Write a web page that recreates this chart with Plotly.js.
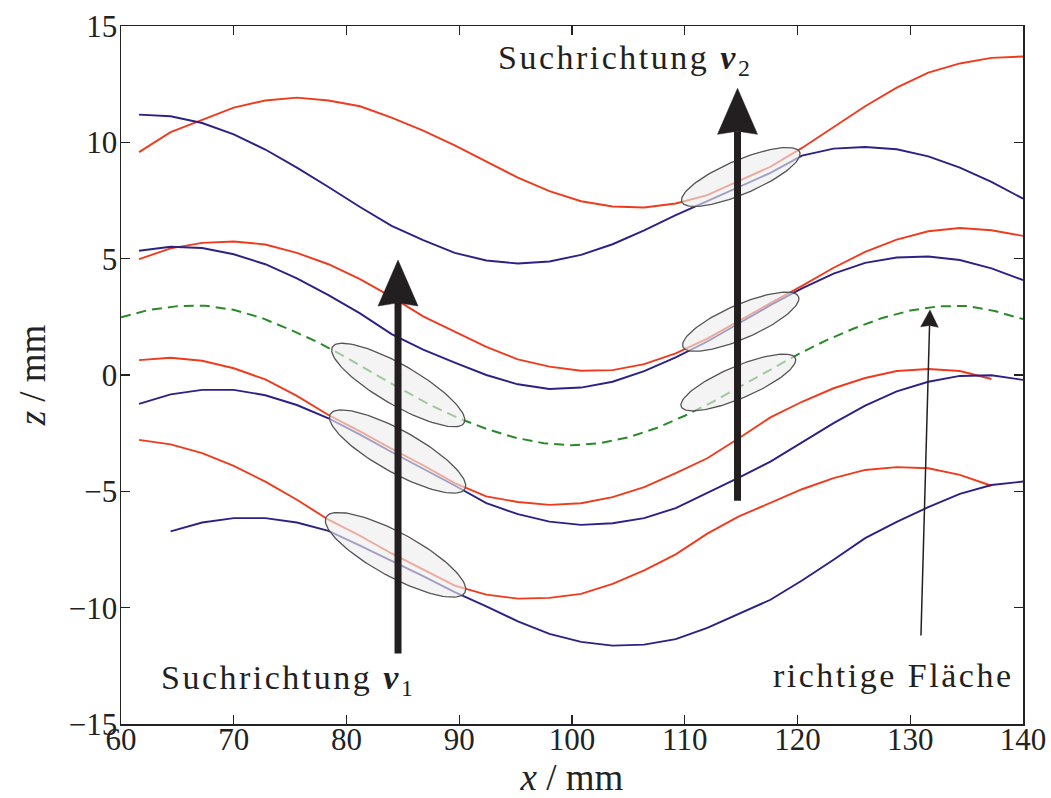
<!DOCTYPE html>
<html><head><meta charset="utf-8">
<script src="https://cdn.plot.ly/plotly-3.0.1.min.js"></script>
<style>html,body{margin:0;padding:0;background:#fff;} #chart{width:1051px;height:798px;} .annotation-text{letter-spacing:2.5px;}</style>
</head><body><div id="chart"></div>
<script>
// ---- data ----
const xGrid = [61.6,64.4,67.2,70.0,72.8,75.6,78.4,81.2,84.0,86.8,89.6,92.4,95.2,98.0,100.8,103.6,106.4,109.2,112.0,114.8,117.6,120.4,123.2,126.0,128.8,131.6,134.4,137.2,140.0];
const red1  = [9.58,10.44,10.97,11.49,11.80,11.92,11.80,11.55,11.06,10.50,9.87,9.16,8.48,7.90,7.47,7.24,7.20,7.37,7.73,8.34,8.95,9.76,10.66,11.55,12.35,13.00,13.39,13.63,13.69];
const blue1 = [11.19,11.12,10.83,10.34,9.69,8.91,8.08,7.22,6.41,5.80,5.25,4.92,4.79,4.88,5.16,5.62,6.22,6.87,7.47,8.07,8.69,9.43,9.73,9.80,9.70,9.40,8.91,8.30,7.58];
const red2  = [4.98,5.44,5.68,5.74,5.61,5.25,4.76,4.12,3.36,2.52,1.86,1.21,0.67,0.36,0.18,0.21,0.47,0.93,1.56,2.34,3.09,3.83,4.61,5.29,5.82,6.18,6.32,6.22,5.98];
const blue2 = [5.34,5.51,5.46,5.19,4.76,4.15,3.43,2.65,1.76,1.09,0.53,0.00,-0.40,-0.60,-0.54,-0.29,0.17,0.76,1.44,2.21,3.00,3.72,4.36,4.82,5.05,5.09,4.94,4.58,4.08];
const red3  = [0.64,0.74,0.61,0.29,-0.19,-0.90,-1.72,-2.42,-3.17,-3.88,-4.65,-5.22,-5.46,-5.58,-5.51,-5.25,-4.82,-4.22,-3.58,-2.72,-1.82,-1.15,-0.57,-0.13,0.17,0.26,0.17,-0.17,null];
const blue3 = [-1.24,-0.83,-0.64,-0.64,-0.87,-1.29,-1.86,-2.56,-3.31,-4.02,-4.75,-5.51,-5.98,-6.30,-6.44,-6.37,-6.15,-5.72,-5.08,-4.41,-3.72,-2.89,-2.07,-1.32,-0.70,-0.29,-0.04,-0.01,-0.21];
const red4  = [-2.79,-2.98,-3.36,-3.91,-4.58,-5.36,-6.22,-6.91,-7.67,-8.35,-9.05,-9.44,-9.61,-9.58,-9.41,-8.98,-8.40,-7.71,-6.82,-6.08,-5.51,-4.91,-4.43,-4.08,-3.96,-4.01,-4.29,-4.76,null];
const blue4 = [null,-6.72,-6.34,-6.15,-6.15,-6.34,-6.70,-7.33,-7.98,-8.64,-9.33,-9.94,-10.59,-11.13,-11.47,-11.63,-11.59,-11.35,-10.87,-10.27,-9.66,-8.83,-7.94,-7.01,-6.31,-5.68,-5.11,-4.73,-4.58];
const greenX = [60,62.5,65,67.5,70,72.5,75,77.5,80,82.5,85,87.5,90,92.5,95,97.5,100,102.5,105,107.5,110,112.5,115,117.5,120,122.5,125,127.5,130,132.5,135,137.5,140];
const greenZ = [2.48,2.80,2.96,2.98,2.80,2.45,1.95,1.40,0.75,0.05,-0.65,-1.30,-1.87,-2.33,-2.70,-2.93,-3.02,-2.93,-2.68,-2.28,-1.75,-1.15,-0.48,0.20,0.88,1.48,2.00,2.45,2.77,2.95,2.97,2.75,2.40];

// ellipses (centre in data units)
const ellX = [84.59,84.53,84.35,114.97,114.97,114.75];
const ellZ = [-0.43,-3.29,-7.73,8.51,2.29,-0.32];
// search-direction arrows
const arrX = [84.57,114.68];
const arrZ0 = [-11.97,-5.41];
const arrZ1 = [4.94,12.32];
// "richtige Fläche" pointer
const ptrX = [130.95,131.75];
const ptrZ = [-11.2,2.79];

const xTicks = [60,70,80,90,100,110,120,130,140];
const zTicks = [-15,-10,-5,0,5,10,15];

// ---- styles / layout geometry ----
const W=1051,H=798, M={l:121,r:28,t:26,b:74};
const xRange=[60,140], zRange=[-15,15];
const sx=(W-M.l-M.r)/(xRange[1]-xRange[0]);
const sz=(H-M.t-M.b)/(zRange[1]-zRange[0]);
const RED='#ef3b1d', BLUE='#2c2185', GREEN='#2a8a2a', INK='#231f20';
const FONT='"Liberation Serif", "Times New Roman", serif';
const ellA=[76,77,79,64,63,62], ellB=[20,21,22,17,17,16], ellAng=[-30,-29,-28.5,23,23.5,23];

const traces=[];
traces.push({x:greenX,y:greenZ,mode:'lines',line:{color:GREEN,width:2,dash:'10px,6px'}});
[[red1,RED],[blue1,BLUE],[red2,RED],[blue2,BLUE],[red3,RED],[blue3,BLUE],[red4,RED],[blue4,BLUE]].forEach(([z,c])=>{
  traces.push({x:xGrid,y:z,mode:'lines',line:{color:c,width:1.9},connectgaps:false});
});

function ellipse(xc,zc,a,b,angDeg){
  const th=angDeg*Math.PI/180, xs=[], zs=[];
  for(let i=0;i<=120;i++){const t=2*Math.PI*i/120;
    const dx=a*Math.cos(t)*Math.cos(th)-b*Math.sin(t)*Math.sin(th);
    const dy=a*Math.cos(t)*Math.sin(th)+b*Math.sin(t)*Math.cos(th);
    xs.push(xc+dx/sx); zs.push(zc+dy/sz);}
  return {xs,zs};
}
for(let i=0;i<ellX.length;i++){
  const e=ellipse(ellX[i],ellZ[i],ellA[i],ellB[i],ellAng[i]);
  traces.push({x:e.xs,y:e.zs,mode:'lines',fill:'toself',fillcolor:'rgba(236,238,236,0.62)',line:{color:'#555',width:1.3}});
}

function arrow(x0,z0,x1,z1,hl,hw,notch,shaftW){
  const dxp=(x1-x0)*sx, dyp=(z1-z0)*sz, L=Math.hypot(dxp,dyp);
  const ux=dxp/L, uy=dyp/L, px=-uy, py=ux;
  const bx=x1-ux*hl/sx, bz=z1-uy*hl/sz;
  const nx=x1-ux*hl*notch/sx, nz=z1-uy*hl*notch/sz;
  traces.push({x:[x0,nx],y:[z0,nz],mode:'lines',line:{color:INK,width:shaftW}});
  traces.push({x:[x1,bx+px*hw/sx,nx,bx-px*hw/sx,x1],y:[z1,bz+py*hw/sz,nz,bz-py*hw/sz,z1],
    mode:'lines',fill:'toself',fillcolor:INK,line:{color:INK,width:0.5}});
}
for(let i=0;i<arrX.length;i++) arrow(arrX[i],arrZ0[i],arrX[i],arrZ1[i],46,20,0.93,7);
arrow(ptrX[0],ptrZ[0],ptrX[1],ptrZ[1],17,8.8,0.9,1.5);

const axisCommon={showgrid:false,zeroline:false,showline:true,linecolor:'#222',linewidth:1.5,mirror:'ticks',
  ticks:'inside',ticklen:9,tickwidth:1.2,tickcolor:'#222',tickfont:{family:FONT,size:31,color:'#222'}};

const layout={
  width:W,height:H,margin:M,paper_bgcolor:'#fff',plot_bgcolor:'#fff',showlegend:false,hovermode:false,
  xaxis:Object.assign({},axisCommon,{range:xRange,tickvals:xTicks,ticktext:xTicks.map(String),ticklabelstandoff:-13,
    title:{text:'<i>x</i> / mm',font:{family:FONT,size:37,color:'#222'},standoff:17}}),
  yaxis:Object.assign({},axisCommon,{range:zRange,tickvals:zTicks,ticklabelstandoff:-4,
    title:{text:'<i>z</i> / mm',font:{family:FONT,size:37,color:'#222'},standoff:12}}),
  annotations:[
    {x:104.7,y:13.52,xref:'x',yref:'y',text:'Suchrichtung <b><i>v</i></b><sub>2</sub>',showarrow:false,xanchor:'center',yanchor:'middle',font:{family:FONT,size:34,color:INK}},
    {x:74.77,y:-13.13,xref:'x',yref:'y',text:'Suchrichtung <b><i>v</i></b><sub>1</sub>',showarrow:false,xanchor:'center',yanchor:'middle',font:{family:FONT,size:34,color:INK}},
    {x:128.43,y:-12.92,xref:'x',yref:'y',text:'richtige Fläche',showarrow:false,xanchor:'center',yanchor:'middle',font:{family:FONT,size:34,color:INK}}
  ]
};
Plotly.newPlot('chart',traces,layout,{displayModeBar:false,staticPlot:true});
</script></body></html>
